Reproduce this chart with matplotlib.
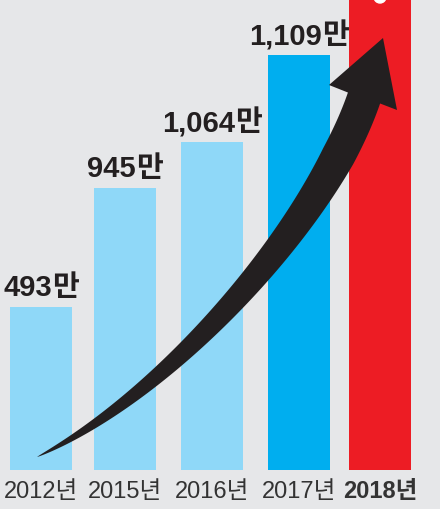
import numpy as np
import matplotlib
matplotlib.use('Agg')
import matplotlib.pyplot as plt
from matplotlib.patches import Polygon, Circle
from matplotlib.offsetbox import TextArea, HPacker, AnnotationBbox

# data
years = ['2012년', '2015년', '2016년', '2017년', '2018년']
value_nums = ['493', '945', '1,064', '1,109']
value_unit = '만'
# drawn heights of the bars (picture is not to scale), in px above the baseline
bar_heights = [163, 282, 328, 415, 480]
bar_colors = ['#8fd8f8', '#8fd8f8', '#8fd8f8', '#00aeef', '#ed1c24']

# layout (pixel coords, y up)
W, H = 440, 509
base = 39
xpos = [41, 125, 212, 299, 380]
bw = 62
bg = '#e6e7e9'
dark = '#231f20'
fams = ['Liberation Sans', 'Noto Sans CJK KR']

fig = plt.figure(figsize=(W / 100, H / 100), dpi=100, facecolor=bg)
ax = fig.add_axes([0, 0, 1, 1])
ax.set_facecolor(bg)
ax.set_xlim(0, W)
ax.set_ylim(0, H)
ax.axis('off')

ax.bar(xpos, bar_heights, width=bw, bottom=base, color=bar_colors, zorder=1)

# white dot at the top of the red bar (cut off)
ax.add_patch(Circle((380, H + 3), 6, color='white', zorder=2))

# year labels
for i, y in enumerate(years):
    ax.text(xpos[i], 11, y, ha='center', va='baseline', fontsize=17,
            color='#333333', weight='bold' if i == 4 else 'normal', family=fams)

# value labels
for i, v in enumerate(value_nums):
    num = TextArea(v, textprops=dict(family='Liberation Sans', weight='bold',
                                     size=21, color=dark))
    unit = TextArea(value_unit, textprops=dict(family='Noto Sans CJK KR', weight='bold',
                                               size=21, color=dark))
    box = HPacker(children=[num, unit], align='baseline', pad=0, sep=0)
    ab = AnnotationBbox(box, (xpos[i], base + bar_heights[i] + 5),
                        box_alignment=(0.5, 0), frameon=False, zorder=3)
    ax.add_artist(ab)

# curved arrow (pixel coords, y down, then flipped)
P0 = np.array([37, 457])
P1 = np.array([172, 392])
P2 = np.array([322, 221])
P3 = np.array([364, 98])
t = np.linspace(0, 1, 200)[:, None]
c = (1 - t) ** 3 * P0 + 3 * (1 - t) ** 2 * t * P1 + 3 * (1 - t) * t ** 2 * P2 + t ** 3 * P3
d = 3 * (1 - t) ** 2 * (P1 - P0) + 6 * (1 - t) * t * (P2 - P1) + 3 * t ** 2 * (P3 - P2)
d = d / np.linalg.norm(d, axis=1)[:, None]
nrm = np.column_stack([d[:, 1], -d[:, 0]])
w = 34 * np.minimum(1, t[:, 0] / 0.85) ** 0.75
left = c + nrm * (w[:, None] / 2)
right = c - nrm * (w[:, None] / 2)
head = np.array([[329, 85], [383, 38], [397, 110]])
pts = np.vstack([left, head, right[::-1]])
pts[:, 1] = H - pts[:, 1]
ax.add_patch(Polygon(pts, closed=True, color=dark, lw=0, zorder=4))

fig.savefig('out.png', dpi=100, facecolor=bg)
